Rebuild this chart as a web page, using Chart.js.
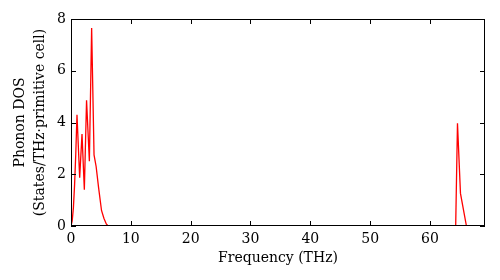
<!DOCTYPE html>
<html>
<head>
<meta charset="utf-8">
<script src="https://cdn.jsdelivr.net/npm/chart.js@4"></script>
<style>
  html, body { margin: 0; padding: 0; background: #fff; }
  #wrap { width: 500px; height: 280px; }
</style>
</head>
<body>
<div id="wrap"><canvas id="dos"></canvas></div>
<script>
// phonon DOS (THz, states/THz/cell)
const freq = [0, 0.2, 0.4, 0.6, 0.8, 1.0, 1.45, 1.84, 2.23, 2.6, 3.07, 3.45, 3.85, 4.2, 4.6, 5.1, 5.5, 5.9, 6.2,
              64.3, 64.6, 65.1, 65.45, 66.1, 69.2];
const dos = [0, 0.2, 0.7, 1.6, 2.8, 4.3, 1.87, 3.55, 1.4, 4.86, 2.5, 7.65, 2.75, 2.3, 1.5, 0.6, 0.3, 0.08, 0,
             0, 3.97, 1.26, 0.82, 0, 0];
const xTicks = [0, 10, 20, 30, 40, 50, 60];
const yTicks = [0, 2, 4, 6, 8];

const font = { family: "'DejaVu Serif', serif", size: 14 };
Chart.defaults.color = '#000';

// box round the plot plus inward tick marks on all four sides
const frame = {
    id: 'frame',
    afterDraw(chart) {
        const { ctx, chartArea: a, scales: { x, y } } = chart;
        const len = 5;
        ctx.save();
        ctx.strokeStyle = '#000';
        ctx.lineWidth = 1;
        ctx.strokeRect(a.left + 0.5, a.top + 0.5, a.right - a.left - 1, a.bottom - a.top - 1);
        ctx.beginPath();
        x.ticks.forEach(t => {
            const px = Math.round(x.getPixelForValue(t.value)) + 0.5;
            ctx.moveTo(px, a.bottom); ctx.lineTo(px, a.bottom - len);
            ctx.moveTo(px, a.top); ctx.lineTo(px, a.top + len);
        });
        y.ticks.forEach(t => {
            const py = Math.round(y.getPixelForValue(t.value)) + 0.5;
            ctx.moveTo(a.left, py); ctx.lineTo(a.left + len, py);
            ctx.moveTo(a.right, py); ctx.lineTo(a.right - len, py);
        });
        ctx.stroke();
        ctx.restore();
    },
};

new Chart(document.getElementById('dos'), {
    type: 'line',
    data: {
        datasets: [{
            data: freq.map((f, i) => ({ x: f, y: dos[i] })),
            borderColor: '#ff0000',
            borderWidth: 1.3,
            pointRadius: 0,
            tension: 0,
            fill: false,
        }],
    },
    options: {
        responsive: true,
        maintainAspectRatio: false,
        animation: false,
        layout: { padding: { top: 19, right: 15, left: 0, bottom: 0 } },
        plugins: {
            legend: { display: false },
            tooltip: { enabled: false },
        },
        scales: {
            x: {
                type: 'linear',
                min: 0,
                max: 69.2,
                grid: { display: false, drawTicks: false },
                border: { display: false },
                afterBuildTicks: (s) => { s.ticks = xTicks.map(v => ({ value: v })); },
                ticks: { font, padding: 5, maxRotation: 0 },
                title: { display: true, text: 'Frequency (THz)', font, padding: { top: 0, bottom: 13 } },
                afterFit: (s) => { s.height = 54; },
            },
            y: {
                min: 0,
                max: 8,
                grid: { display: false, drawTicks: false },
                border: { display: false },
                afterBuildTicks: (s) => { s.ticks = yTicks.map(v => ({ value: v })); },
                ticks: { font, padding: 5 },
                title: {
                    display: true,
                    text: ['Phonon DOS', '(States/THz·primitive cell)'],
                    font: { ...font, lineHeight: 20 / 14 },
                    padding: { top: 10, bottom: 0 },
                },
                afterFit: (s) => { s.width = 71; },
            },
        },
    },
    plugins: [frame],
});
</script>
</body>
</html>
